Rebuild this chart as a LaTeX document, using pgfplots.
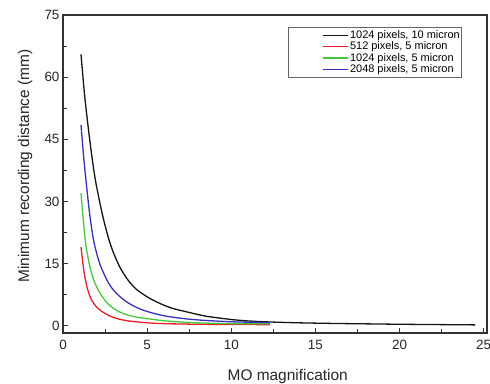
\documentclass[border=0pt]{standalone}
\usepackage{pgfplots}
\pgfplotsset{compat=1.18}
\usepackage{fontspec}
\setmainfont{Liberation Sans}
\definecolor{cblack}{RGB}{20,20,20}
\definecolor{cred}{RGB}{228,32,38}
\definecolor{cgreen}{RGB}{70,200,60}
\definecolor{cblue}{RGB}{50,50,190}
\begin{document}
\begin{tikzpicture}
\useasboundingbox (-63bp,-51bp) rectangle (427bp,333bp);
\begin{axis}[
  at={(0,0)}, anchor=south west,
  scale only axis, width=424bp, height=318bp,
  xmin=0, xmax=25.2, ymin=-1.76, ymax=75,
  xtick={0,5,10,15,20,25}, ytick={0,15,30,45,60,75},
  minor xtick={2.5,7.5,12.5,17.5,22.5},
  minor ytick={7.5,22.5,37.5,52.5,67.5},
  tick pos=left, tick align=inside,
  major tick length=5bp, minor tick length=3.5bp,
  axis line style={line width=1.1bp, black!80},
  every tick/.style={line width=1bp, black!80},
  /pgf/number format/assume math mode=true,
  ticklabel style={font=\fontsize{13.5}{15}\selectfont, text=black!85},
  xticklabel style={yshift=-4bp},
  xlabel={MO magnification},
  ylabel={Minimum recording distance (mm)},
  every axis x label/.style={at={(axis description cs:0.53,-0.138)}, anchor=center,
    font=\fontsize{15.5}{18}\selectfont, text=black!85},
  every axis y label/.style={at={(axis description cs:-0.0896,0.525)}, rotate=90, anchor=center,
    font=\fontsize{15.5}{18}\selectfont, text=black!85},
  legend style={at={(axis description cs:0.5307,0.962)}, anchor=north west,
    draw=black!60, line width=0.6bp, inner xsep=1bp, inner ysep=2bp,
    font=\fontsize{11}{12.5}\selectfont, row sep=-0.5bp,
    nodes={inner xsep=1bp, inner ysep=1.2bp}},
  legend cell align=left,
  legend image code/.code={\draw[white, line width=0.2bp] (0bp,0bp) -- (34bp,0bp); \draw[#1] (34bp,0bp) -- (59bp,0bp);},
]
\addplot[cblack, line width=1.3bp, smooth] coordinates {
(1.07,65.5) (1.3,55) (1.6,44.5) (1.89,36) (2.2,29.5) (2.45,25) (2.75,20.5) (3.04,17.2) (3.4,14) (3.83,11.2) (4.3,9.0) (4.8,7.5) (5.2,6.5) (5.8,5.3) (6.5,4.2) (7.5,3.2) (8.5,2.3) (10,1.5) (11,1.15) (12.3,0.9) (14,0.7) (16,0.55) (18,0.45) (20,0.35) (22,0.28) (24.5,0.2)};
\addlegendentry{1024 pixels, 10 micron}
\addplot[cred, line width=1.3bp, smooth] coordinates {
(1.07,19) (1.2,14.5) (1.3,11.8) (1.46,8.8) (1.7,6.2) (2.0,4.5) (2.25,3.6) (2.7,2.5) (3.0,2.0) (3.43,1.5) (4,1.1) (5,0.7) (6,0.5) (8,0.35) (10,0.3) (12.3,0.25)};
\addlegendentry{512 pixels, 5 micron}
\addplot[cgreen, line width=1.3bp, smooth] coordinates {
(1.07,32) (1.2,25.8) (1.36,19.5) (1.6,14.2) (1.85,10.8) (2.15,8.2) (2.6,5.6) (3.0,4.2) (3.43,3.2) (4.0,2.4) (4.6,1.9) (5.2,1.6) (6,1.2) (7,0.9) (8,0.7) (10,0.5) (12.3,0.45)};
\addlegendentry{1024 pixels, 5 micron}
\addplot[cblue, line width=1.3bp, smooth] coordinates {
(1.07,48.5) (1.2,42) (1.36,35.3) (1.6,26.5) (1.85,20) (2.2,14.8) (2.64,10.8) (3.0,8.6) (3.5,6.6) (4.0,5.2) (4.6,4.0) (5.2,3.2) (6,2.4) (7,1.8) (8,1.4) (9,1.15) (10,0.95) (11,0.85) (12.3,0.75)};
\addlegendentry{2048 pixels, 5 micron}
\end{axis}
\end{tikzpicture}
\end{document}
